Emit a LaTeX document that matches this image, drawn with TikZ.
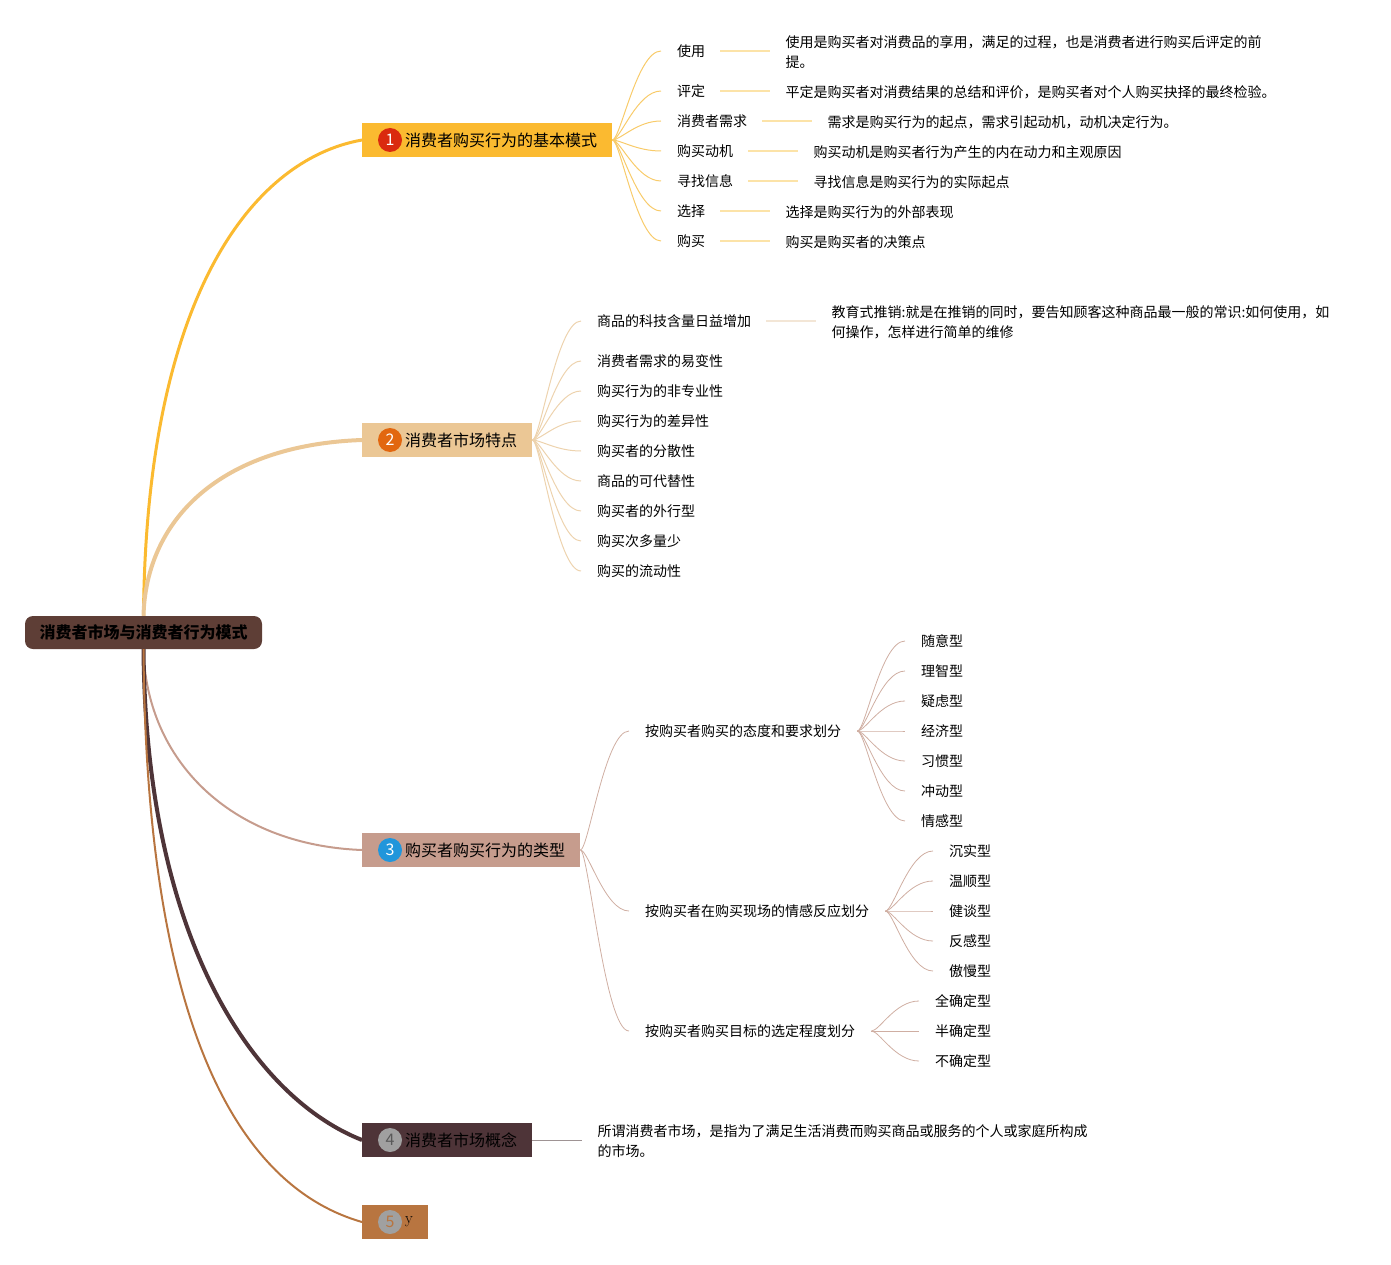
\documentclass[tikz,border=0pt]{standalone}
\usepackage{fontspec}
\newfontfamily\cjk{Noto Sans CJK SC}
\usetikzlibrary{positioning}
\definecolor{rootcol}{RGB}{94,62,54}
\definecolor{col1}{RGB}{251,186,48}
\definecolor{col2}{RGB}{235,199,149}
\definecolor{col3}{RGB}{198,156,141}
\definecolor{col4}{RGB}{78,52,56}
\definecolor{col5}{RGB}{184,117,64}
\definecolor{dot1}{RGB}{218,42,14}
\definecolor{dot2}{RGB}{226,103,15}
\definecolor{dot3}{RGB}{33,150,219}
\definecolor{dotgray}{RGB}{160,160,160}
\definecolor{fan1}{RGB}{248,203,106}
\definecolor{line1}{RGB}{252,227,168}
\definecolor{fan2}{RGB}{237,211,174}
\definecolor{line2}{RGB}{243,230,214}
\definecolor{fan3}{RGB}{207,174,162}
\definecolor{line4}{RGB}{158,147,148}
\tikzset{
	rootbox/.style = {rounded corners = 8pt, fill = rootcol, minimum width = 237pt, minimum height = 33pt, inner sep = 0pt, font = \cjk\bfseries\fontsize{16}{16}\selectfont},
	bbox/.style = {anchor = west, inner xsep = 15pt, inner ysep = 0pt, minimum height = 34pt, font = \cjk\fontsize{16}{16}\selectfont},
	numdot/.style = {circle, inner sep = 0pt, minimum size = 24pt, font = \cjk\fontsize{16}{16}\selectfont},
	leaf/.style = {anchor = west, inner sep = 0pt, yshift = -1pt, font = \cjk\fontsize{14}{20}\selectfont, align = left},
	fanA/.style = {draw = fan1, line width = 1pt},
	fanB/.style = {draw = fan2, line width = 1pt},
	fanC/.style = {draw = fan3, line width = 0.8pt},
	dline/.style = {line width = 2pt, shorten < = 15pt, shorten > = 15pt},
}
\begin{document}
\begin{tikzpicture}[x = 1pt, y = -1pt]
		\useasboundingbox (0,0) rectangle (1391,1265);
		% root and main branches
		\node [rootbox](root) at (143.5,632.5) {消费者市场与消费者行为模式};
		\node [bbox, fill = col1](b1) at (362,140) {\hspace{28pt}消费者购买行为的基本模式};
		\node [bbox, fill = col2](b2) at (362,440) {\hspace{28pt}消费者市场特点};
		\node [bbox, fill = col3](b3) at (362,850) {\hspace{28pt}购买者购买行为的类型};
		\node [bbox, fill = col4](b4) at (362,1140) {\hspace{28pt}消费者市场概念};
		\node [bbox, fill = col5](b5) at (362,1222) {\hspace{28pt}{\rmfamily y}};
		\node [numdot, fill = dot1, text = white](n1) at (390,140) {1};
		\node [numdot, fill = dot2, text = white](n2) at (390,440) {2};
		\node [numdot, fill = dot3, text = white](n3) at (390,850) {3};
		\node [numdot, fill = dotgray, text = black!65](n4) at (390,1140) {4};
		\node [numdot, fill = dotgray, text = col5](n5) at (390,1222) {5};
		\draw [line width = 3pt, col1] (root.north) .. controls (146,300) and (250,160) .. (b1.west);
		\draw [line width = 4pt, col2] (root.north) .. controls (146,520) and (220,445) .. (b2.west);
		\draw [line width = 2pt, col3] (root.south) .. controls (146,760) and (230,845) .. (b3.west);
		\draw [line width = 4pt, col4] (root.south) .. controls (146,950) and (260,1100) .. (b4.west);
		\draw [line width = 2pt, col5] (root.south) .. controls (146,1050) and (250,1190) .. (b5.west);
		% branch 1
		\node [leaf](c11) at (677,50) {使用};
		\node [leaf](c12) at (677,90) {评定};
		\node [leaf](c13) at (677,120) {消费者需求};
		\node [leaf](c14) at (677,150) {购买动机};
		\node [leaf](c15) at (677,180) {寻找信息};
		\node [leaf](c16) at (677,210) {选择};
		\node [leaf](c17) at (677,240) {购买};
		\node [leaf, right = 80pt of c11](d11) {使用是购买者对消费品的享用，满足的过程，也是消费者进行购买后评定的前\\提。};
		\node [leaf, right = 80pt of c12](d12) {平定是购买者对消费结果的总结和评价，是购买者对个人购买抉择的最终检验。};
		\node [leaf, right = 80pt of c13](d13) {需求是购买行为的起点，需求引起动机，动机决定行为。};
		\node [leaf, right = 80pt of c14](d14) {购买动机是购买者行为产生的内在动力和主观原因};
		\node [leaf, right = 80pt of c15](d15) {寻找信息是购买行为的实际起点};
		\node [leaf, right = 80pt of c16](d16) {选择是购买行为的外部表现};
		\node [leaf, right = 80pt of c17](d17) {购买是购买者的决策点};
		\draw [fanA] (b1.east) .. controls +(8,0) and +(-24,0) .. ([xshift = -16pt]c11.west);
		\draw [fanA] (b1.east) .. controls +(8,0) and +(-24,0) .. ([xshift = -16pt]c12.west);
		\draw [fanA] (b1.east) .. controls +(8,0) and +(-24,0) .. ([xshift = -16pt]c13.west);
		\draw [fanA] (b1.east) .. controls +(8,0) and +(-24,0) .. ([xshift = -16pt]c14.west);
		\draw [fanA] (b1.east) .. controls +(8,0) and +(-24,0) .. ([xshift = -16pt]c15.west);
		\draw [fanA] (b1.east) .. controls +(8,0) and +(-24,0) .. ([xshift = -16pt]c16.west);
		\draw [fanA] (b1.east) .. controls +(8,0) and +(-24,0) .. ([xshift = -16pt]c17.west);
		\draw [dline, line1] (c11.east) -- (c11.east -| d11.west);
		\draw [dline, line1] (c12.east) -- (c12.east -| d12.west);
		\draw [dline, line1] (c13.east) -- (c13.east -| d13.west);
		\draw [dline, line1] (c14.east) -- (c14.east -| d14.west);
		\draw [dline, line1] (c15.east) -- (c15.east -| d15.west);
		\draw [dline, line1] (c16.east) -- (c16.east -| d16.west);
		\draw [dline, line1] (c17.east) -- (c17.east -| d17.west);
		% branch 2
		\node [leaf](c21) at (597,320) {商品的科技含量日益增加};
		\node [leaf](c22) at (597,360) {消费者需求的易变性};
		\node [leaf](c23) at (597,390) {购买行为的非专业性};
		\node [leaf](c24) at (597,420) {购买行为的差异性};
		\node [leaf](c25) at (597,450) {购买者的分散性};
		\node [leaf](c26) at (597,480) {商品的可代替性};
		\node [leaf](c27) at (597,510) {购买者的外行型};
		\node [leaf](c28) at (597,540) {购买次多量少};
		\node [leaf](c29) at (597,570) {购买的流动性};
		\node [leaf, right = 80pt of c21](d21) {教育式推销:就是在推销的同时，要告知顾客这种商品最一般的常识:如何使用，如\\何操作，怎样进行简单的维修};
		\draw [fanB] (b2.east) .. controls +(8,0) and +(-24,0) .. ([xshift = -16pt]c21.west);
		\draw [fanB] (b2.east) .. controls +(8,0) and +(-24,0) .. ([xshift = -16pt]c22.west);
		\draw [fanB] (b2.east) .. controls +(8,0) and +(-24,0) .. ([xshift = -16pt]c23.west);
		\draw [fanB] (b2.east) .. controls +(8,0) and +(-24,0) .. ([xshift = -16pt]c24.west);
		\draw [fanB] (b2.east) .. controls +(8,0) and +(-24,0) .. ([xshift = -16pt]c25.west);
		\draw [fanB] (b2.east) .. controls +(8,0) and +(-24,0) .. ([xshift = -16pt]c26.west);
		\draw [fanB] (b2.east) .. controls +(8,0) and +(-24,0) .. ([xshift = -16pt]c27.west);
		\draw [fanB] (b2.east) .. controls +(8,0) and +(-24,0) .. ([xshift = -16pt]c28.west);
		\draw [fanB] (b2.east) .. controls +(8,0) and +(-24,0) .. ([xshift = -16pt]c29.west);
		\draw [dline, line2] (c21.east) -- (c21.east -| d21.west);
		% branch 3
		\node [leaf](g1) at (645,730) {按购买者购买的态度和要求划分};
		\node [leaf](g2) at (645,910) {按购买者在购买现场的情感反应划分};
		\node [leaf](g3) at (645,1030) {按购买者购买目标的选定程度划分};
		\draw [fanC] (b3.east) .. controls +(8,0) and +(-24,0) .. ([xshift = -16pt]g1.west);
		\draw [fanC] (b3.east) .. controls +(8,0) and +(-24,0) .. ([xshift = -16pt]g2.west);
		\draw [fanC] (b3.east) .. controls +(8,0) and +(-24,0) .. ([xshift = -16pt]g3.west);
		\node [leaf](t11) at (921,640) {随意型};
		\node [leaf](t12) at (921,670) {理智型};
		\node [leaf](t13) at (921,700) {疑虑型};
		\node [leaf](t14) at (921,730) {经济型};
		\node [leaf](t15) at (921,760) {习惯型};
		\node [leaf](t16) at (921,790) {冲动型};
		\node [leaf](t17) at (921,820) {情感型};
		\node [leaf](t21) at (949,850) {沉实型};
		\node [leaf](t22) at (949,880) {温顺型};
		\node [leaf](t23) at (949,910) {健谈型};
		\node [leaf](t24) at (949,940) {反感型};
		\node [leaf](t25) at (949,970) {傲慢型};
		\node [leaf](t31) at (935,1000) {全确定型};
		\node [leaf](t32) at (935,1030) {半确定型};
		\node [leaf](t33) at (935,1060) {不确定型};
		\draw [fanC] ([xshift = 16pt]g1.east) .. controls +(8,0) and +(-24,0) .. ([xshift = -16pt]t11.west);
		\draw [fanC] ([xshift = 16pt]g1.east) .. controls +(8,0) and +(-24,0) .. ([xshift = -16pt]t12.west);
		\draw [fanC] ([xshift = 16pt]g1.east) .. controls +(8,0) and +(-24,0) .. ([xshift = -16pt]t13.west);
		\draw [fanC] ([xshift = 16pt]g1.east) .. controls +(8,0) and +(-24,0) .. ([xshift = -16pt]t14.west);
		\draw [fanC] ([xshift = 16pt]g1.east) .. controls +(8,0) and +(-24,0) .. ([xshift = -16pt]t15.west);
		\draw [fanC] ([xshift = 16pt]g1.east) .. controls +(8,0) and +(-24,0) .. ([xshift = -16pt]t16.west);
		\draw [fanC] ([xshift = 16pt]g1.east) .. controls +(8,0) and +(-24,0) .. ([xshift = -16pt]t17.west);
		\draw [fanC] ([xshift = 16pt]g2.east) .. controls +(8,0) and +(-24,0) .. ([xshift = -16pt]t21.west);
		\draw [fanC] ([xshift = 16pt]g2.east) .. controls +(8,0) and +(-24,0) .. ([xshift = -16pt]t22.west);
		\draw [fanC] ([xshift = 16pt]g2.east) .. controls +(8,0) and +(-24,0) .. ([xshift = -16pt]t23.west);
		\draw [fanC] ([xshift = 16pt]g2.east) .. controls +(8,0) and +(-24,0) .. ([xshift = -16pt]t24.west);
		\draw [fanC] ([xshift = 16pt]g2.east) .. controls +(8,0) and +(-24,0) .. ([xshift = -16pt]t25.west);
		\draw [fanC] ([xshift = 16pt]g3.east) .. controls +(8,0) and +(-24,0) .. ([xshift = -16pt]t31.west);
		\draw [fanC] ([xshift = 16pt]g3.east) .. controls +(8,0) and +(-24,0) .. ([xshift = -16pt]t32.west);
		\draw [fanC] ([xshift = 16pt]g3.east) .. controls +(8,0) and +(-24,0) .. ([xshift = -16pt]t33.west);
		% branch 4
		\node [leaf, right = 65pt of b4](d4) {所谓消费者市场，是指为了满足生活消费而购买商品或服务的个人或家庭所构成\\的市场。};
		\draw [line width = 1pt, line4, shorten > = 15pt] (b4.east) -- (b4.east -| d4.west);
		\end{tikzpicture}
\end{document}
